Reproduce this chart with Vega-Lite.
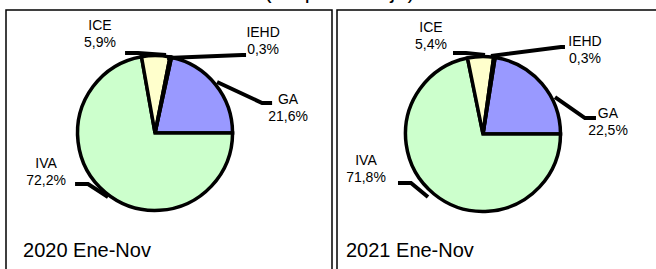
{
  "$schema": "https://vega.github.io/schema/vega-lite/v6.json",
  "background": "white",
  "padding": {"left": 5, "top": -20, "right": 0, "bottom": 0},
  "title": {"text": "(En porcentaje)", "fontSize": 22, "font": "Liberation Sans", "fontWeight": "normal", "color": "black", "anchor": "middle", "offset": 6, "dx": 5},
  "spacing": 3,
  "config": {"view": {"stroke": "black", "strokeWidth": 1.5}},
  "datasets": {
    "slices": [
      {"id": "2020-GA", "year": 2020, "cat": "GA", "pct": 21.6, "ord": 1},
      {"id": "2020-IVA", "year": 2020, "cat": "IVA", "pct": 72.2, "ord": 2},
      {"id": "2020-ICE", "year": 2020, "cat": "ICE", "pct": 5.9, "ord": 3},
      {"id": "2020-IEHD", "year": 2020, "cat": "IEHD", "pct": 0.3, "ord": 4},
      {"id": "2021-GA", "year": 2021, "cat": "GA", "pct": 22.5, "ord": 1},
      {"id": "2021-IVA", "year": 2021, "cat": "IVA", "pct": 71.8, "ord": 2},
      {"id": "2021-ICE", "year": 2021, "cat": "ICE", "pct": 5.4, "ord": 3},
      {"id": "2021-IEHD", "year": 2021, "cat": "IEHD", "pct": 0.3, "ord": 4}
    ],
    "labelpos": [
      {"id": "2020-ICE", "lx": -71.0, "ly": 132.9},
      {"id": "2020-IEHD", "lx": 139.4, "ly": 123.9},
      {"id": "2020-GA", "lx": 171.6, "ly": 37.4},
      {"id": "2020-IVA", "lx": -140.6, "ly": -45.2},
      {"id": "2021-ICE", "lx": -67.1, "ly": 131.6},
      {"id": "2021-IEHD", "lx": 131.6, "ly": 113.5},
      {"id": "2021-GA", "lx": 161.3, "ly": 20.6},
      {"id": "2021-IVA", "lx": -151.0, "ly": -40.0}
    ],
    "leaders": [
      {"year": 2020, "cat": "ICE", "i": 1, "lx": -38.7, "ly": 103.2},
      {"year": 2020, "cat": "ICE", "i": 2, "lx": -21.9, "ly": 103.2},
      {"year": 2020, "cat": "ICE", "i": 3, "lx": 14.2, "ly": 100.6},
      {"year": 2020, "cat": "IEHD", "i": 1, "lx": 15.5, "ly": 96.8},
      {"year": 2020, "cat": "IEHD", "i": 2, "lx": 112.3, "ly": 100.6},
      {"year": 2020, "cat": "IEHD", "i": 3, "lx": 117.4, "ly": 100.6},
      {"year": 2020, "cat": "GA", "i": 1, "lx": 80.0, "ly": 65.8},
      {"year": 2020, "cat": "GA", "i": 2, "lx": 138.1, "ly": 38.7},
      {"year": 2020, "cat": "GA", "i": 3, "lx": 151.0, "ly": 38.7},
      {"year": 2020, "cat": "IVA", "i": 1, "lx": -103.2, "ly": -65.8},
      {"year": 2020, "cat": "IVA", "i": 2, "lx": -86.5, "ly": -65.8},
      {"year": 2020, "cat": "IVA", "i": 3, "lx": -60.6, "ly": -82.6},
      {"year": 2021, "cat": "ICE", "i": 1, "lx": -38.7, "ly": 104.5},
      {"year": 2021, "cat": "ICE", "i": 2, "lx": -21.9, "ly": 104.5},
      {"year": 2021, "cat": "ICE", "i": 3, "lx": 2.6, "ly": 101.9},
      {"year": 2021, "cat": "IEHD", "i": 1, "lx": 10.3, "ly": 100.6},
      {"year": 2021, "cat": "IEHD", "i": 2, "lx": 100.6, "ly": 112.3},
      {"year": 2021, "cat": "IEHD", "i": 3, "lx": 105.8, "ly": 112.3},
      {"year": 2021, "cat": "GA", "i": 1, "lx": 92.9, "ly": 47.7},
      {"year": 2021, "cat": "GA", "i": 2, "lx": 131.6, "ly": 20.6},
      {"year": 2021, "cat": "GA", "i": 3, "lx": 145.8, "ly": 20.6},
      {"year": 2021, "cat": "IVA", "i": 1, "lx": -109.7, "ly": -63.2},
      {"year": 2021, "cat": "IVA", "i": 2, "lx": -92.9, "ly": -63.2},
      {"year": 2021, "cat": "IVA", "i": 3, "lx": -71.0, "ly": -81.3}
    ],
    "panels": [
      {"year": 2020, "name": "2020 Ene-Nov", "lx": -170.3, "ly": -160.0},
      {"year": 2021, "name": "2021 Ene-Nov", "lx": -176.8, "ly": -158.7}
    ]
  },
  "hconcat": [
    {
      "width": 326, "height": 270,
      "layer": [
        {
          "data": {"name": "slices"},
          "transform": [{"filter": "datum.year == 2020"}],
          "mark": {"type": "arc", "outerRadius": 77.5, "stroke": "black", "strokeWidth": 3.5},
          "encoding": {
            "theta": {"field": "pct", "type": "quantitative", "stack": true, "scale": {"domain": [0, 100], "range": [0.21363, 6.49682]}},
            "order": {"field": "ord", "type": "quantitative"},
            "color": {"field": "cat", "type": "nominal", "scale": {"domain": ["GA", "IVA", "ICE", "IEHD"], "range": ["#9999ff", "#ccffcc", "#ffffcc", "#993366"]}, "legend": null},
            "x": {"datum": 0, "type": "quantitative", "scale": {"domain": [-192.3, 228.3], "nice": false, "zero": false}, "axis": null},
            "y": {"datum": 0, "type": "quantitative", "scale": {"domain": [-189.7, 158.7], "nice": false, "zero": false}, "axis": null}
          }
        },
        {
          "data": {"name": "leaders"},
          "transform": [{"filter": "datum.year == 2020"}],
          "mark": {"type": "line", "color": "black", "strokeWidth": 4, "strokeCap": "butt"},
          "encoding": {
            "x": {"field": "lx", "type": "quantitative"},
            "y": {"field": "ly", "type": "quantitative"},
            "detail": {"field": "cat"},
            "order": {"field": "i", "type": "quantitative"}
          }
        },
        {
          "data": {"name": "slices"},
          "transform": [
            {"filter": "datum.year == 2020"},
            {"lookup": "id", "from": {"data": {"name": "labelpos"}, "key": "id", "fields": ["lx", "ly"]}},
            {"calculate": "datum.cat + '\\n' + replace(format(datum.pct, '.1f'), '.', ',') + '%'", "as": "label"}
          ],
          "mark": {"type": "text", "fontSize": 14, "font": "Liberation Sans", "align": "center", "baseline": "alphabetic", "lineBreak": "\n", "lineHeight": 17, "color": "black"},
          "encoding": {
            "x": {"field": "lx", "type": "quantitative"},
            "y": {"field": "ly", "type": "quantitative"},
            "text": {"field": "label"}
          }
        },
        {
          "data": {"name": "panels"},
          "transform": [{"filter": "datum.year == 2020"}],
          "mark": {"type": "text", "fontSize": 20, "font": "Liberation Sans", "align": "left", "baseline": "alphabetic", "color": "black"},
          "encoding": {
            "x": {"field": "lx", "type": "quantitative"},
            "y": {"field": "ly", "type": "quantitative"},
            "text": {"field": "name"}
          }
        }
      ]
    },
    {
      "width": 326, "height": 270,
      "layer": [
        {
          "data": {"name": "slices"},
          "transform": [{"filter": "datum.year == 2021"}],
          "mark": {"type": "arc", "outerRadius": 77.5, "stroke": "black", "strokeWidth": 3.5},
          "encoding": {
            "theta": {"field": "pct", "type": "quantitative", "stack": true, "scale": {"domain": [0, 100], "range": [0.15708, 6.44026]}},
            "order": {"field": "ord", "type": "quantitative"},
            "color": {"field": "cat", "type": "nominal", "scale": {"domain": ["GA", "IVA", "ICE", "IEHD"], "range": ["#9999ff", "#ccffcc", "#ffffcc", "#993366"]}, "legend": null},
            "x": {"datum": 0, "type": "quantitative", "scale": {"domain": [-188.4, 232.3], "nice": false, "zero": false}, "axis": null},
            "y": {"datum": 0, "type": "quantitative", "scale": {"domain": [-188.4, 160.0], "nice": false, "zero": false}, "axis": null}
          }
        },
        {
          "data": {"name": "leaders"},
          "transform": [{"filter": "datum.year == 2021"}],
          "mark": {"type": "line", "color": "black", "strokeWidth": 4, "strokeCap": "butt"},
          "encoding": {
            "x": {"field": "lx", "type": "quantitative"},
            "y": {"field": "ly", "type": "quantitative"},
            "detail": {"field": "cat"},
            "order": {"field": "i", "type": "quantitative"}
          }
        },
        {
          "data": {"name": "slices"},
          "transform": [
            {"filter": "datum.year == 2021"},
            {"lookup": "id", "from": {"data": {"name": "labelpos"}, "key": "id", "fields": ["lx", "ly"]}},
            {"calculate": "datum.cat + '\\n' + replace(format(datum.pct, '.1f'), '.', ',') + '%'", "as": "label"}
          ],
          "mark": {"type": "text", "fontSize": 14, "font": "Liberation Sans", "align": "center", "baseline": "alphabetic", "lineBreak": "\n", "lineHeight": 17, "color": "black"},
          "encoding": {
            "x": {"field": "lx", "type": "quantitative"},
            "y": {"field": "ly", "type": "quantitative"},
            "text": {"field": "label"}
          }
        },
        {
          "data": {"name": "panels"},
          "transform": [{"filter": "datum.year == 2021"}],
          "mark": {"type": "text", "fontSize": 20, "font": "Liberation Sans", "align": "left", "baseline": "alphabetic", "color": "black"},
          "encoding": {
            "x": {"field": "lx", "type": "quantitative"},
            "y": {"field": "ly", "type": "quantitative"},
            "text": {"field": "name"}
          }
        }
      ]
    }
  ]
}
